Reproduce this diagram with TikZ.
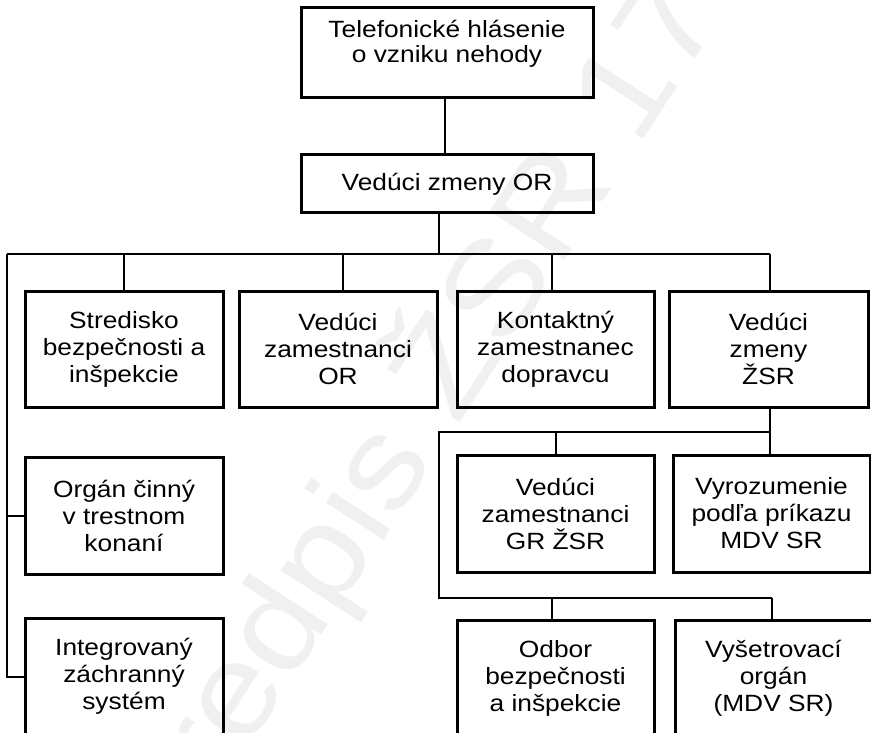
\documentclass[tikz,border=0pt]{standalone}
\usepackage{fontspec}
\setmainfont{Liberation Sans}[FakeStretch=1.12]
\begin{document}
\begin{tikzpicture}[x=1pt,y=-1pt,
  box/.style={draw=black,line width=3pt,fill=white,rectangle,inner sep=0pt,align=center,
    font=\fontsize{23.5}{27}\selectfont},
  conn/.style={draw=black,line width=2pt},
  wm/.style={text=black,text opacity=0.06,font=\fontsize{130}{130}\selectfont,rotate=57}]
\useasboundingbox (0,0) rectangle (871,733);
\clip (0,0) rectangle (871,733);
% boxes
\node[box,minimum width=292,minimum height=90] (top) at (447,53) {};
\node[font=\fontsize{23.5}{25}\selectfont,align=center,inner sep=0pt] (toptxt) at (447,44) {Telefonické hlásenie\\o vzniku nehody};
\node[box,minimum width=292,minimum height=58] (mid) at (447,184) {Vedúci zmeny OR};
\node[box,minimum width=198,minimum height=116] (A) at (124,349) {Stredisko\\bezpečnosti a\\inšpekcie};
\node[box,minimum width=198,minimum height=116] (B) at (338,349) {Vedúci\\zamestnanci\\OR};
\node[box,minimum width=197,minimum height=116] (C) at (555.5,349) {Kontaktný\\zamestnanec\\dopravcu};
\node[box,minimum width=199,minimum height=116] (D) at (768.5,349) {Vedúci\\zmeny\\ŽSR};
\node[box,minimum width=198,minimum height=117] (E) at (124,515.5) {Orgán činný\\v trestnom\\konaní};
\node[box,minimum width=198,minimum height=117] (F) at (124,676.5) {Integrovaný\\záchranný\\systém};
\node[box,minimum width=197,minimum height=117] (G) at (555.5,513.5) {Vedúci\\zamestnanci\\GR ŽSR};
\node[box,minimum width=197,minimum height=117] (H) at (771.5,513.5) {Vyrozumenie\\podľa príkazu\\MDV SR};
\node[box,minimum width=197,minimum height=117] (I) at (555.5,678.5) {Odbor\\bezpečnosti\\a inšpekcie};
\node[box,minimum width=197,minimum height=117] (J) at (773.5,678.5) {Vyšetrovací\\orgán\\(MDV SR)};
% bus coordinates
\coordinate (bus) at (439,254);
\coordinate (busL) at (7,254);
\coordinate (busR) at (770,254);
\coordinate (b2) at (770,432);
\coordinate (b2L) at (439,432);
\coordinate (b3L) at (439,598);
\coordinate (b3R) at (772,598);
% connectors
\draw[conn] ([xshift=-2pt]top.south) -- ([xshift=-2pt]top.south |- mid.north);
\draw[conn] (mid.south -| bus) -- (bus);
\draw[conn] (busL) -- (busR);
\draw[conn] (A.north) -- (A.north |- bus);
\draw[conn] ([xshift=5pt]B.north) -- ([xshift=5pt]B.north |- bus);
\draw[conn] ([xshift=-3.5pt]C.north) -- ([xshift=-3.5pt]C.north |- bus);
\draw[conn] (D.north -| busR) -- (busR);
\draw[conn] (busL) -- (busL |- F.west) -- (F.west);
\draw[conn] (busL |- E.west) -- (E.west);
\draw[conn] (D.south -| b2) -- (b2) -- (b2L) -- (b3L) -- (b3R);
\draw[conn] (G.north) -- (G.north |- b2);
\draw[conn] (H.north -| b2) -- (b2);
\draw[conn] ([xshift=-3.5pt]I.north) -- ([xshift=-3.5pt]I.north |- b3L);
\draw[conn] (J.north -| b3R) -- (b3R);
% watermark
\node[wm] (wmark) at (410,420) {Predpis ŽSR 17};
\end{tikzpicture}
\end{document}
